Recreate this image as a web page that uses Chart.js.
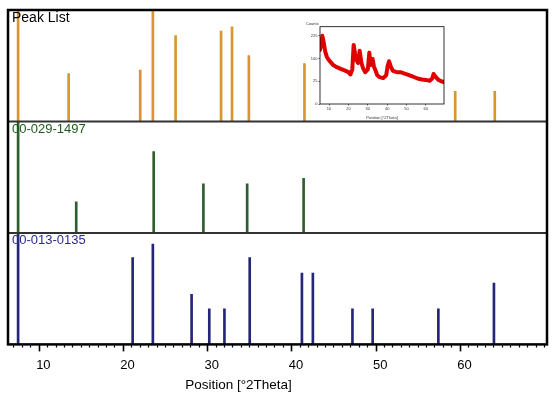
<!DOCTYPE html>
<html>
<head>
<meta charset="utf-8">
<script src="https://cdn.jsdelivr.net/npm/chart.js@4"></script>
<style>
  html, body { margin: 0; padding: 0; background: #fff; }
  #wrap { position: relative; width: 557px; height: 399px; }
  #insetBox { position: absolute; left: 300px; top: 18px; width: 150px; height: 102px; }
</style>
</head>
<body>
<div id="wrap">
  <canvas id="main" width="557" height="399"></canvas>
  <div id="insetBox"><canvas id="inset" width="150" height="102"></canvas></div>
</div>
<script>
// peak positions (°2Theta) and relative intensities per panel
const peakListPos = [7.0, 13.0, 21.5, 23.0, 25.7, 31.1, 32.4, 34.4, 41.0, 58.9, 63.6];
const peakListInt = [100, 43, 46, 100, 77, 81, 85, 59, 52, 27, 27];
const ref1497Pos = [7.0, 13.9, 23.1, 29.0, 34.2, 40.9];
const ref1497Int = [100, 28, 73, 44, 44, 49];
const ref0135Pos = [7.0, 20.6, 23.0, 27.6, 29.7, 31.5, 34.5, 40.7, 42.0, 46.7, 49.1, 56.9, 63.5];
const ref0135Int = [100, 78, 90, 45, 32, 32, 78, 64, 64, 32, 32, 32, 55];
const panelLabels = ["Peak List", "00-029-1497", "00-013-0135"];
const xTickLabels = [10, 20, 30, 40, 50, 60];
const xMinorTicks = [6, 7, 8, 9, 11, 12, 13, 14, 15, 16, 17, 18, 19, 21, 22, 23, 24, 25, 26, 27, 28, 29,
  31, 32, 33, 34, 35, 36, 37, 38, 39, 41, 42, 43, 44, 45, 46, 47, 48, 49, 51, 52, 53, 54, 55, 56, 57,
  58, 59, 61, 62, 63, 64, 65, 66, 67, 68, 69];

// small scan in the inset (sqrt of counts)
const scanPos = [5.3, 6.0, 6.5, 7.2, 8.0, 8.8, 10, 12.3, 14, 15.7, 18, 20, 21, 22, 22.7, 23.5, 24.2, 25, 25.8, 26.6, 27.5, 28.7, 30, 30.8, 31.5, 32.5, 33.2, 34, 34.8, 36, 38, 39.5, 40.3, 41, 42, 43, 45, 47, 49, 51, 53, 55.7, 58, 60, 62, 63.3, 64, 65, 66.5, 68, 69.4];
const scanSqrt = [11.9, 13.2, 15.0, 13.6, 11.5, 10.4, 9.6, 8.5, 8.1, 7.8, 7.4, 7.0, 6.5, 7.6, 13.0, 10.8, 9.6, 9.0, 11.7, 9.3, 7.9, 7.0, 7.6, 11.3, 8.6, 9.9, 8.2, 7.4, 6.4, 5.9, 5.7, 6.3, 8.4, 9.4, 8.1, 7.3, 7.0, 7.0, 6.7, 6.4, 6.1, 5.6, 5.4, 5.3, 5.1, 5.6, 6.6, 6.0, 5.3, 5.0, 4.8];
const insetYTicks = [0, 25, 100, 225];
const insetXTicks = [10, 20, 30, 40, 50, 60];

const FONT = "'Liberation Sans', Arial, sans-serif";

function toPoints(pos, vals) {
  return pos.map((x, i) => ({ x: x, y: vals[i] }));
}

function hiddenY(weight) {
  return {
    stack: "panels",
    stackWeight: 1,
    weight: weight,
    min: 0,
    max: 100,
    ticks: { display: false },
    grid: { display: false },
    border: { display: false },
    afterFit: (s) => {
      s.width = 0;
    },
  };
}

// frame, separators and labels
const framePlugin = {
  id: "frame",
  afterDatasetsDraw(chart) {
    const { ctx, chartArea: a, scales } = chart;
    const panels = [scales.yTop, scales.yMid, scales.yBot];
    const colors = ["#000000", "#1E5C1E", "#2A2A96"];
    ctx.save();
    ctx.strokeStyle = "#333";
    ctx.lineWidth = 2;
    [scales.yMid, scales.yBot].forEach((s) => {
      ctx.beginPath();
      ctx.moveTo(a.left, s.top);
      ctx.lineTo(a.right, s.top);
      ctx.stroke();
    });
    ctx.strokeStyle = "#000";
    ctx.lineWidth = 2.5;
    ctx.strokeRect(a.left, a.top, a.right - a.left, a.bottom - a.top);

    ctx.textBaseline = "top";
    ctx.textAlign = "left";
    panels.forEach((s, i) => {
      ctx.fillStyle = colors[i];
      ctx.font = (i === 0 ? "14px " : "13px ") + FONT;
      ctx.fillText(panelLabels[i], a.left + 4, s.top + 1);
    });

    ctx.fillStyle = "#000";
    ctx.font = "13.5px " + FONT;
    ctx.textAlign = "center";
    ctx.textBaseline = "middle";
    ctx.fillText("Position [°2Theta]", (a.left + a.right) / 2 - 39, 385);
    ctx.restore();
  },
};

new Chart(document.getElementById("main"), {
  type: "bar",
  data: {
    datasets: [
      {
        label: panelLabels[0],
        data: toPoints(peakListPos, peakListInt),
        yAxisID: "yTop",
        backgroundColor: "#D8962E",
      },
      {
        label: panelLabels[1],
        data: toPoints(ref1497Pos, ref1497Int),
        yAxisID: "yMid",
        backgroundColor: "#2F5F2F",
      },
      {
        label: panelLabels[2],
        data: toPoints(ref0135Pos, ref0135Int),
        yAxisID: "yBot",
        backgroundColor: "#25257A",
      },
    ],
  },
  options: {
    responsive: false,
    animation: false,
    barThickness: 2,
    grouped: false,
    layout: { padding: { left: 8, right: 10, top: 10, bottom: 20 } },
    plugins: {
      legend: { display: false },
      tooltip: { enabled: false },
    },
    scales: {
      x: {
        type: "linear",
        min: 5.8,
        max: 69.8,
        offset: false,
        afterBuildTicks: (s) => {
          s.ticks = xTickLabels
            .concat(xMinorTicks)
            .sort((p, q) => p - q)
            .map((v) => ({ value: v }));
        },
        border: { display: false },
        grid: {
          drawOnChartArea: false,
          drawTicks: true,
          tickLength: 7,
          tickColor: "#000",
          tickWidth: (ctx) => (xTickLabels.includes(ctx.tick && ctx.tick.value) ? 1.6 : 1.2),
          tickBorderDash: (ctx) =>
            xTickLabels.includes(ctx.tick && ctx.tick.value) ? [] : [3.5, 20],
        },
        ticks: {
          autoSkip: false,
          maxRotation: 0,
          padding: 6,
          color: "#000",
          font: { size: 13, family: FONT },
          callback: (value) => (xTickLabels.includes(value) ? String(value) : ""),
        },
      },
      yTop: hiddenY(3),
      yMid: hiddenY(2),
      yBot: hiddenY(1),
    },
  },
  plugins: [framePlugin],
});

// inset scan chart
const insetPlugin = {
  id: "insetFrame",
  afterDatasetsDraw(chart) {
    const { ctx, chartArea: a } = chart;
    ctx.save();
    ctx.strokeStyle = "#000";
    ctx.lineWidth = 0.8;
    ctx.strokeRect(a.left, a.top, a.right - a.left, a.bottom - a.top);
    ctx.fillStyle = "#333";
    ctx.font = "4px " + FONT;
    ctx.textBaseline = "bottom";
    ctx.fillText("Counts", a.left - 14, a.top - 1);
    ctx.restore();
  },
};

new Chart(document.getElementById("inset"), {
  type: "line",
  data: {
    datasets: [
      {
        data: toPoints(scanPos, scanSqrt),
        borderColor: "#E00000",
        borderWidth: 4,
        borderJoinStyle: "round",
        borderCapStyle: "round",
        pointRadius: 0,
        tension: 0,
      },
    ],
  },
  options: {
    responsive: false,
    animation: false,
    layout: { padding: { left: 0, right: 6, top: 8.7, bottom: 0 } },
    plugins: { legend: { display: false }, tooltip: { enabled: false } },
    scales: {
      x: {
        type: "linear",
        min: 5.3,
        max: 69.4,
        afterBuildTicks: (s) => {
          s.ticks = insetXTicks.map((v) => ({ value: v }));
        },
        afterFit: (s) => {
          s.height = 16;
        },
        border: { display: false },
        grid: { drawOnChartArea: false, tickLength: 1.5, tickColor: "#000", tickWidth: 0.6 },
        ticks: { color: "#333", font: { size: 4, family: FONT }, padding: 1, maxRotation: 0 },
        title: {
          display: true,
          text: "Position [°2Theta]",
          color: "#333",
          font: { size: 4, family: FONT },
          padding: 0,
        },
      },
      y: {
        min: 0,
        max: 17,
        afterBuildTicks: (s) => {
          s.ticks = insetYTicks.map((v) => ({ value: Math.sqrt(v) }));
        },
        afterFit: (s) => {
          s.width = 20;
        },
        border: { display: false },
        grid: { drawOnChartArea: false, tickLength: 1.5, tickColor: "#000", tickWidth: 0.6 },
        ticks: {
          color: "#333",
          font: { size: 4, family: FONT },
          padding: 1,
          callback: (value) => String(Math.round(value * value)),
        },
      },
    },
  },
  plugins: [insetPlugin],
});
</script>
</body>
</html>
